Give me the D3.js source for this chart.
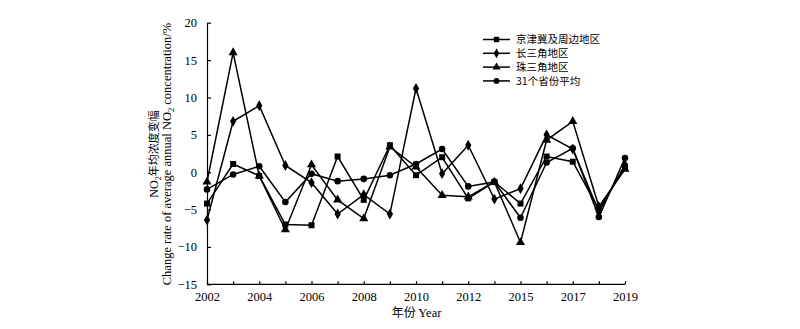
<!DOCTYPE html>
<html><head><meta charset="utf-8">
<script src="https://cdn.jsdelivr.net/npm/d3@7"></script>
<style>
html,body{margin:0;padding:0;background:#fff;}
svg{display:block;}
text{fill:#000;}
</style></head>
<body>
<svg id="chart" width="800" height="329"></svg>
<script>
const years = ["2002","2003","2004","2005","2006","2007","2008","2009","2010","2011","2012","2014","2015","2016","2017","2018","2019"];
const tickYears = ["2002","2004","2006","2008","2010","2012","2015","2017","2019"];
const yTicks = [-15,-10,-5,0,5,10,15,20];
const seriesNames = ["京津冀及周边地区","长三角地区","珠三角地区","31个省份平均"];
const jingjinji = [-4.2, 1.1, -0.5, -7.0, -7.1, 2.1, -3.7, 3.6, -0.4, 2.0, -3.5, -1.3, -4.2, 2.1, 1.4, -5.0, 0.7];
const changsanjiao = [-6.4, 6.8, 8.9, 0.9, -1.4, -5.6, -3.0, -5.6, 11.2, -0.2, 3.6, -3.6, -2.2, 5.0, 3.1, -5.3, 1.0];
const zhusanjiao = [-1.3, 16.0, -0.5, -7.7, 1.0, -3.7, -6.2, 3.4, 0.7, -3.1, -3.3, -1.3, -9.4, 4.3, 6.8, -4.6, 0.4];
const avg31 = [-2.3, -0.3, 0.8, -4.0, -0.2, -1.2, -0.9, -0.4, 1.1, 3.1, -1.9, -1.3, -6.1, 1.3, 3.2, -6.0, 1.9];

const series = [
  {name: seriesNames[0], values: jingjinji, sym: d3.symbolSquare, size: 36},
  {name: seriesNames[1], values: changsanjiao, sym: d3.symbolDiamond, size: 34},
  {name: seriesNames[2], values: zhusanjiao, sym: d3.symbolTriangle, size: 36},
  {name: seriesNames[3], values: avg31, sym: d3.symbolCircle, size: 34}
];

const svg = d3.select("#chart");
const x = d3.scalePoint().domain(years).range([207, 625]);
const y = d3.scaleLinear().domain([-15, 20]).range([284.3, 22.7]);
const serif = "'Liberation Serif','Times New Roman',serif";
const cjk = "'Noto Sans CJK SC','Noto Sans CJK JP',sans-serif";

// axes
const xAxis = d3.axisBottom(x).tickSizeInner(-3).tickSizeOuter(0).tickPadding(6)
  .tickFormat(d => tickYears.includes(d) ? d : "");
const gx = svg.append("g").attr("transform", "translate(0,284.3)").call(xAxis);
gx.select(".domain").attr("stroke", "#000").attr("stroke-width", 1.2).attr("d", "M207,0H625");
gx.selectAll(".tick line").attr("stroke", "#000").attr("stroke-width", 1.2);
gx.selectAll("text").attr("font-family", serif).attr("font-size", 12.5).attr("dy", "0.85em");

const yAxis = d3.axisLeft(y).tickValues(yTicks).tickSizeInner(-4).tickSizeOuter(0).tickPadding(10);
const gy = svg.append("g").attr("transform", "translate(207,0)").call(yAxis);
gy.select(".domain").attr("stroke", "#000").attr("stroke-width", 1.2);
gy.selectAll(".tick line").attr("stroke", "#000").attr("stroke-width", 1.2);
gy.selectAll("text").attr("font-family", serif).attr("font-size", 12.5);

// lines
const line = d3.line().x((d, i) => x(years[i])).y(d => y(d));
series.forEach(s => {
  svg.append("path").datum(s.values).attr("d", line)
    .attr("fill", "none").attr("stroke", "#000").attr("stroke-width", 1.5).attr("stroke-linejoin", "miter");
});
series.forEach(s => {
  svg.append("g").selectAll("path").data(s.values).join("path")
    .attr("d", d3.symbol().type(s.sym).size(s.size))
    .attr("transform", (d, i) => `translate(${x(years[i])},${y(d)})`)
    .attr("fill", "#000");
});

// legend
const lg = svg.append("g");
series.forEach((s, i) => {
  const ly = 39.5 + i * 13.8;
  lg.append("line").attr("x1", 483).attr("x2", 510).attr("y1", ly).attr("y2", ly)
    .attr("stroke", "#000").attr("stroke-width", 1.5);
  lg.append("path").attr("d", d3.symbol().type(s.sym).size(s.size * 0.8)())
    .attr("transform", `translate(496.5,${ly})`).attr("fill", "#000");
  lg.append("text").attr("x", 516).attr("y", ly).attr("dy", "0.36em")
    .attr("font-family", cjk).attr("font-size", 10.5).text(s.name);
});

// axis titles
svg.append("text").attr("x", 416.5).attr("y", 313).attr("dy", "0.35em").attr("text-anchor", "middle")
  .attr("font-size", 12.5)
  .call(t => {
    t.append("tspan").attr("font-family", cjk).attr("font-size", 12).text("年份 ");
    t.append("tspan").attr("font-family", serif).text("Year");
  });

const ty1 = svg.append("text").attr("transform", "translate(154,154) rotate(-90)")
  .attr("text-anchor", "middle").attr("dy", "0.35em").attr("font-size", 11);
ty1.append("tspan").attr("font-family", serif).attr("font-size", 12).text("NO");
ty1.append("tspan").attr("font-family", serif).attr("font-size", 8).attr("dy", "3").text("2");
ty1.append("tspan").attr("font-family", cjk).attr("font-size", 11).attr("dy", "-3").text("年均浓度变幅");

const ty2 = svg.append("text").attr("transform", "translate(166.5,154) rotate(-90)")
  .attr("text-anchor", "middle").attr("dy", "0.35em").attr("font-family", serif).attr("font-size", 12.5);
ty2.append("tspan").text("Change rate of average annual NO");
ty2.append("tspan").attr("font-size", 8.5).attr("dy", "3").text("2");
ty2.append("tspan").attr("dy", "-3").text(" concentration/%");
</script>
</body></html>
